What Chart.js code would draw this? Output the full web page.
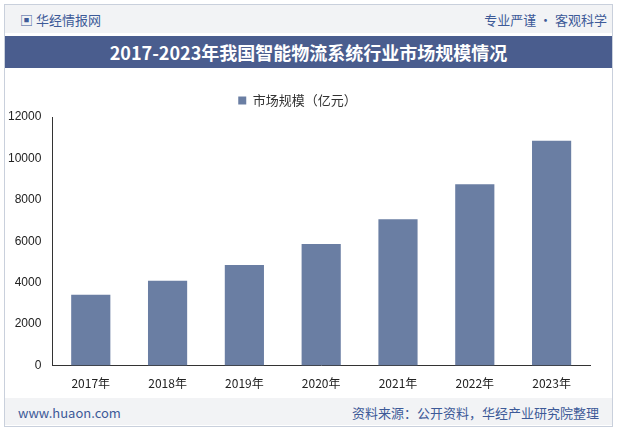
<!DOCTYPE html>
<html><head><meta charset="utf-8">
<script src="https://cdn.jsdelivr.net/npm/chart.js@4"></script>
<style>
body{margin:0;width:619px;height:433px;background:#fff;font-family:"Noto Sans CJK SC","Noto Sans",sans-serif;position:relative;overflow:hidden}
#frame{position:absolute;left:4px;top:4px;width:609px;height:423px;border:1px solid #c9d0dc;box-sizing:border-box}
#top{position:absolute;left:5px;top:5px;width:607px;height:28px;background:#f2f3f5}
#logo{position:absolute;left:20px;top:10px;font-size:13px;color:#3d5a98}
#slogan{position:absolute;right:12px;top:10px;font-size:13px;color:#3d5a98}
#title{position:absolute;left:5px;top:36px;width:607px;height:32px;background:#4a5d8e;color:#fff;font-weight:bold;font-size:18px;text-align:center;line-height:32px;font-family:"Noto Sans CJK SC",serif}
#foot{position:absolute;left:5px;top:398px;width:607px;height:27px;background:#f2f3f5}
#web{position:absolute;left:18px;top:403px;font-size:13px;color:#3d5a98}
#src{position:absolute;right:20px;top:403px;font-size:13px;color:#3d5a98}
#wrap{position:absolute;left:5px;top:78px;width:607px;height:316px}
</style></head><body>
<div id="frame"></div><div id="top"></div>
<div id="logo">▣ 华经情报网</div><div id="slogan">专业严谨 • 客观科学</div>
<div id="title">2017-2023年我国智能物流系统行业市场规模情况</div>
<div id="foot"></div><div id="web">www.huaon.com</div><div id="src">资料来源：公开资料，华经产业研究院整理</div>
<div id="wrap"><canvas id="c"></canvas></div>
<script>
const categories=["2017年","2018年","2019年","2020年","2021年","2022年","2023年"];
const values=[3420,4090,4860,5870,7070,8750,10850];
const seriesName="市场规模（亿元）";
new Chart(document.getElementById('c'),{type:'bar',
data:{labels:categories,datasets:[{label:seriesName,data:values,backgroundColor:'#6a7ea3',categoryPercentage:0.6,barPercentage:0.85}]},
options:{responsive:true,maintainAspectRatio:false,animation:false,
layout:{padding:{left:0,right:22,top:0,bottom:0}},
plugins:{legend:{labels:{boxWidth:8,boxHeight:8,padding:16,color:'#333',font:{size:13,family:'"Noto Sans CJK SC"'}}}},
scales:{x:{grid:{display:false},border:{color:'#333'},ticks:{color:'#222',font:{size:12,family:'"Noto Sans CJK SC"'}}},
y:{min:0,max:12000,ticks:{stepSize:2000,color:'#222',font:{size:12},callback:v=>String(v)},grid:{display:false},border:{color:'#333'}}}}});
</script></body></html>
